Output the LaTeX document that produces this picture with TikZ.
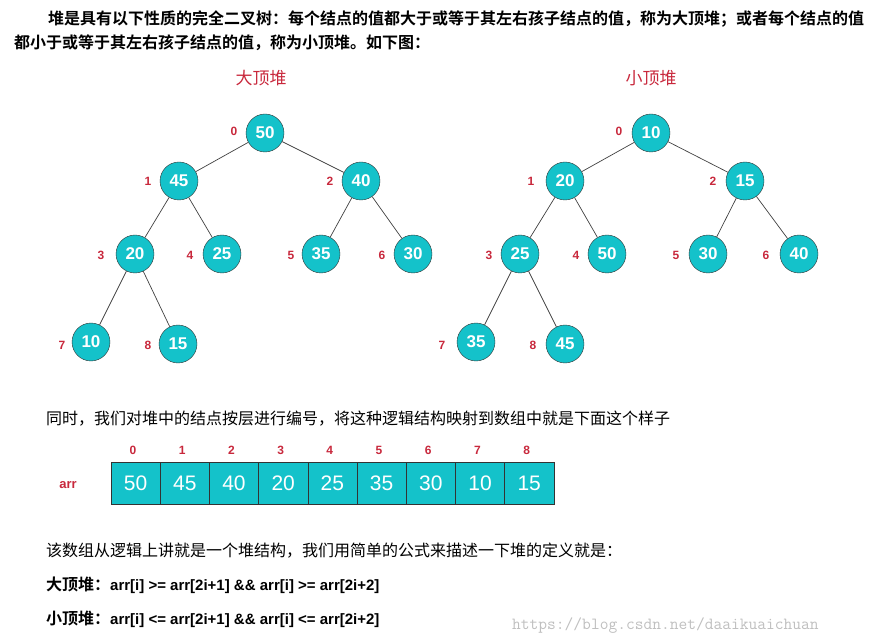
\documentclass[tikz,border=0pt]{standalone}
\usepackage{fontspec}
\setmainfont{Liberation Sans}
\newfontfamily\cjk{Noto Sans CJK SC}
\newfontfamily\cjkb{Noto Sans CJK SC}[BoldFont={* Bold}]
\definecolor{teal1}{HTML}{14C2CA}
\definecolor{red1}{HTML}{C8283C}
\begin{document}
\begin{tikzpicture}[x=1pt,y=-1pt,
  hn/.style={circle,draw=black!80,fill=teal1,minimum size=38pt,inner sep=0pt,text=white,font=\fontsize{17}{17}\selectfont\bfseries},
  idx/.style={text=red1,font=\fontsize{12}{12}\selectfont\bfseries},
  cell/.style={draw=black!80,fill=teal1,minimum width=49.2pt,minimum height=42pt,inner sep=0pt,text=white,font=\fontsize{21}{21}\selectfont},
  txt/.style={anchor=west,inner sep=0pt,font=\cjk\fontsize{16}{16}\selectfont},
  btxt/.style={anchor=west,inner sep=0pt,font=\cjkb\bfseries\fontsize{16}{16}\selectfont},
  ttl/.style={text=red1,font=\cjk\fontsize{17}{17}\selectfont},
  ed/.style={draw=black!75,line width=0.7pt}]
\useasboundingbox (0,0) rectangle (873,644);
\node[btxt] (l1) at (48,19) {堆是具有以下性质的完全二叉树：每个结点的值都大于或等于其左右孩子结点的值，称为大顶堆；或者每个结点的值};
\node[btxt] (l2) at (14,43) {都小于或等于其左右孩子结点的值，称为小顶堆。如下图：};
\node[ttl] (t1) at (261,78) {大顶堆};
\node[ttl] (t2) at (651,78) {小顶堆};
% tree 1
\foreach \n/\v/\x/\y in {a0/50/265/133,a1/45/179/181,a2/40/361/181,a3/20/135/254,a4/25/222/254,a5/35/321/254,a6/30/413/254,a7/10/91/342,a8/15/178/344}
  \node[hn] (\n) at (\x,\y) {\v};
\foreach \n/\v/\x/\y in {b0/10/651/133,b1/20/565/181,b2/15/745/181,b3/25/520/254,b4/50/607/254,b5/30/708/254,b6/40/799/254,b7/35/476/342,b8/45/565/344}
  \node[hn] (\n) at (\x,\y) {\v};
\foreach \t in {a,b}{
  \draw[ed] (\t0)--(\t1); \draw[ed] (\t0)--(\t2);
  \draw[ed] (\t1)--(\t3); \draw[ed] (\t1)--(\t4);
  \draw[ed] (\t2)--(\t5); \draw[ed] (\t2)--(\t6);
  \draw[ed] (\t3)--(\t7); \draw[ed] (\t3)--(\t8);
}
\foreach \i/\x/\y in {0/234/131,1/148/181,2/330/181,3/101/255,4/190/255,5/291/255,6/382/255,7/62/345,8/148/345}
  \node[idx] (ia\i) at (\x,\y) {\i};
\foreach \i/\x/\y in {0/619/131,1/531/181,2/713/181,3/489/255,4/576/255,5/676/255,6/766/255,7/442/345,8/533/345}
  \node[idx] (ib\i) at (\x,\y) {\i};
\node[txt] (l3) at (46,419) {同时，我们对堆中的结点按层进行编号，将这种逻辑结构映射到数组中就是下面这个样子};
\node[idx,font=\fontsize{13}{13}\selectfont\bfseries] (arr) at (68,485) {arr};
\foreach \i/\v in {0/50,1/45,2/40,3/20,4/25,5/35,6/30,7/10,8/15}{
  \node[cell] (c\i) at ({135.6+49.2*\i},483) {\v};
  \node[idx] (ci\i) at ({133+49.2*\i},450) {\i};
}
\node[txt] (l4) at (46,551) {该数组从逻辑上讲就是一个堆结构，我们用简单的公式来描述一下堆的定义就是：};
\node[btxt] (l5) at (46,585) {大顶堆：{\rmfamily\bfseries\fontsize{15}{16}\selectfont arr[i] >= arr[2i+1] \&\& arr[i] >= arr[2i+2]}};
\node[btxt] (l6) at (46,619) {小顶堆：{\rmfamily\bfseries\fontsize{15}{16}\selectfont arr[i] <= arr[2i+1] \&\& arr[i] <= arr[2i+2]}};
\node[anchor=west,inner sep=0pt,text=black!25,font=\ttfamily\fontsize{17}{17}\selectfont] (wm) at (512,626) {https://blog.csdn.net/daaikuaichuan};
\end{tikzpicture}
\end{document}
